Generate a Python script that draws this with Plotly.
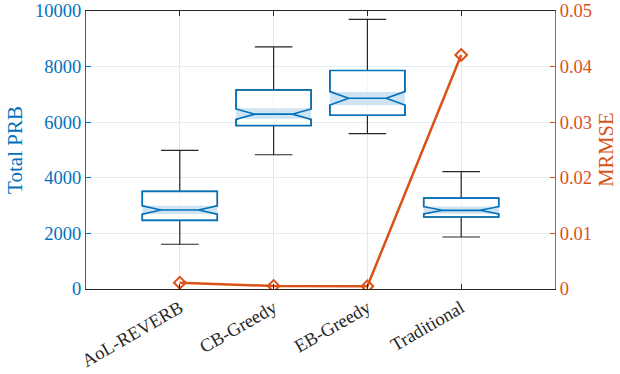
import plotly.graph_objects as go

categories = ["AoL-REVERB", "CB-Greedy", "EB-Greedy", "Traditional"]
positions = [1, 2, 3, 4]
prb_lower = [1610, 4830, 5590, 1870]
prb_q1 = [2470, 5880, 6250, 2590]
prb_median = [2840, 6290, 6860, 2830]
prb_q3 = [3510, 7160, 7860, 3270]
prb_upper = [4990, 8710, 9700, 4220]
prb_notch_lo = [2697, 6126, 6606, 2708]
prb_notch_hi = [2996, 6498, 7087, 2971]
mrmse = [0.00113, 0.00054, 0.0005, 0.0421]

BLUE = "#0072BD"
ORANGE = "#D95319"
DARK = "#262626"
FONT = "Liberation Serif"

notchspan = [(h - l) / 2 for l, h in zip(prb_notch_lo, prb_notch_hi)]
notch_center = [(h + l) / 2 for l, h in zip(prb_notch_lo, prb_notch_hi)]

fig = go.Figure()

# whiskers (black) with box
fig.add_trace(go.Box(
    x=positions, q1=prb_q1, median=prb_median, q3=prb_q3,
    lowerfence=prb_lower, upperfence=prb_upper,
    notched=True, notchspan=notchspan, notchwidth=0.25,
    width=0.8, whiskerwidth=0.5,
    line=dict(color=DARK, width=1.2), fillcolor="rgba(255,255,255,0.6)",
    boxpoints=False, hoverinfo="skip", showlegend=False, yaxis="y",
))
# notch band (light blue)
fig.add_trace(go.Box(
    x=positions, q1=prb_notch_lo, median=notch_center, q3=prb_notch_hi,
    lowerfence=prb_notch_lo, upperfence=prb_notch_hi,
    width=0.8, whiskerwidth=0,
    line=dict(color="rgba(0,0,0,0)", width=0), fillcolor="#cfe3f2",
    boxpoints=False, hoverinfo="skip", showlegend=False, yaxis="y",
))
# blue notched outline
fig.add_trace(go.Box(
    x=positions, q1=prb_q1, median=prb_median, q3=prb_q3,
    lowerfence=prb_q1, upperfence=prb_q3,
    notched=True, notchspan=notchspan, notchwidth=0.25,
    width=0.8, whiskerwidth=0,
    line=dict(color=BLUE, width=1.6), fillcolor="rgba(0,0,0,0)",
    boxpoints=False, hoverinfo="skip", showlegend=False, yaxis="y",
))

fig.add_trace(go.Scatter(
    x=positions, y=mrmse, yaxis="y2", mode="lines+markers",
    line=dict(color=ORANGE, width=2.5),
    marker=dict(symbol="diamond-open", size=9, color=ORANGE, line=dict(width=2, color=ORANGE)),
    showlegend=False,
))

fig.update_layout(
    width=620, height=374,
    margin=dict(l=86, r=65, t=11, b=85),
    paper_bgcolor="white", plot_bgcolor="white",
    boxmode="overlay",
    font=dict(family=FONT, size=18.5, color=DARK),
    xaxis=dict(
        range=[0, 5], tickmode="array", tickvals=positions, ticktext=categories,
        tickangle=-30, showgrid=True, gridcolor="#e6e6e6", gridwidth=1,
        showline=True, mirror="ticks", linecolor=DARK, linewidth=1,
        ticks="inside", ticklen=5, tickcolor=DARK, zeroline=False,
        tickfont=dict(family=FONT, size=18.5, color=DARK), automargin=False,
    ),
    yaxis=dict(
        range=[0, 10000], dtick=2000, tickformat="d", showgrid=True, gridcolor="#e2edf6",
        showline=True, linecolor=BLUE, linewidth=1, ticks="inside", ticklen=5,
        tickcolor=BLUE, zeroline=False, automargin=False,
        tickfont=dict(family=FONT, size=18.5, color=BLUE),
        title=dict(text="Total PRB", font=dict(family=FONT, size=21, color=BLUE), standoff=6),
    ),
    yaxis2=dict(
        range=[0, 0.05], dtick=0.01, overlaying="y", side="right", showgrid=False,
        showline=True, linecolor=ORANGE, linewidth=1, ticks="inside", ticklen=5,
        tickcolor=ORANGE, zeroline=False, automargin=False,
        tickfont=dict(family=FONT, size=18.5, color=ORANGE),
    ),
    annotations=[dict(
        text="MRMSE", xref="paper", yref="paper", x=1.108, y=0.5,
        textangle=-90, showarrow=False, xanchor="center", yanchor="middle",
        font=dict(family=FONT, size=20.5, color=ORANGE),
    )],
)

fig.write_html("out.html", config={"displayModeBar": False},
               post_script="document.body.style.margin='0';")
